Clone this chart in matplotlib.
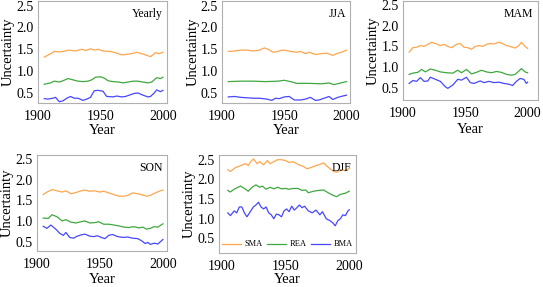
import matplotlib
matplotlib.use("Agg")
import matplotlib.pyplot as plt

# ---------------- data ----------------
series_names = ["SMA", "REA", "BMA"]
colors = ["#FFA64D", "#3FA83F", "#4747FF"]

yearly_sma_x = [1905, 1909, 1913, 1917, 1920, 1925, 1930, 1935, 1938, 1942, 1945, 1948, 1952, 1958, 1962, 1967, 1970, 1975, 1979, 1983, 1987, 1990, 1994, 1997, 2000]
yearly_sma_y = [1.32, 1.38, 1.45, 1.44, 1.45, 1.48, 1.46, 1.50, 1.47, 1.51, 1.48, 1.50, 1.46, 1.45, 1.42, 1.37, 1.38, 1.40, 1.43, 1.40, 1.36, 1.33, 1.42, 1.40, 1.43]
yearly_rea_x = [1905, 1910, 1913, 1917, 1920, 1924, 1928, 1932, 1936, 1940, 1943, 1946, 1950, 1953, 1956, 1960, 1965, 1968, 1972, 1976, 1980, 1984, 1988, 1991, 1995, 1998, 2000]
yearly_rea_y = [0.70, 0.73, 0.77, 0.75, 0.78, 0.83, 0.80, 0.77, 0.76, 0.77, 0.80, 0.86, 0.87, 0.84, 0.78, 0.76, 0.75, 0.73, 0.75, 0.77, 0.77, 0.75, 0.73, 0.75, 0.85, 0.83, 0.86]
yearly_bma_x = [1905, 1908, 1912, 1914, 1917, 1920, 1923, 1926, 1929, 1932, 1936, 1939, 1942, 1945, 1948, 1952, 1955, 1960, 1963, 1967, 1970, 1973, 1977, 1980, 1984, 1988, 1990, 1993, 1995, 1998, 2000]
yearly_bma_y = [0.37, 0.36, 0.38, 0.40, 0.30, 0.32, 0.38, 0.42, 0.38, 0.38, 0.33, 0.36, 0.40, 0.55, 0.56, 0.54, 0.42, 0.41, 0.43, 0.41, 0.42, 0.45, 0.49, 0.50, 0.45, 0.41, 0.42, 0.50, 0.57, 0.53, 0.56]

jja_sma_x = [1905, 1910, 1915, 1920, 1925, 1930, 1934, 1937, 1941, 1945, 1948, 1952, 1955, 1960, 1963, 1967, 1970, 1975, 1980, 1984, 1989, 1992, 1996, 2000]
jja_sma_y = [1.45, 1.46, 1.48, 1.48, 1.46, 1.48, 1.53, 1.50, 1.43, 1.45, 1.48, 1.47, 1.45, 1.43, 1.45, 1.40, 1.43, 1.38, 1.40, 1.41, 1.36, 1.40, 1.43, 1.48]
jja_rea_x = [1905, 1915, 1925, 1935, 1945, 1950, 1955, 1960, 1970, 1980, 1986, 1990, 1994, 2000]
jja_rea_y = [0.76, 0.77, 0.77, 0.76, 0.77, 0.79, 0.76, 0.72, 0.72, 0.71, 0.73, 0.69, 0.72, 0.76]
jja_bma_x = [1905, 1910, 1915, 1920, 1925, 1930, 1936, 1940, 1943, 1946, 1950, 1954, 1958, 1963, 1967, 1971, 1975, 1978, 1982, 1986, 1989, 1993, 1997, 2000]
jja_bma_y = [0.41, 0.42, 0.40, 0.39, 0.38, 0.38, 0.36, 0.33, 0.38, 0.37, 0.41, 0.42, 0.34, 0.34, 0.36, 0.40, 0.33, 0.34, 0.38, 0.42, 0.35, 0.40, 0.43, 0.45]

mam_sma_x = [1905, 1908, 1911, 1914, 1917, 1920, 1923, 1927, 1930, 1933, 1936, 1939, 1943, 1946, 1949, 1952, 1955, 1958, 1961, 1964, 1967, 1970, 1973, 1977, 1980, 1983, 1986, 1990, 1993, 1995, 1998, 2000]
mam_sma_y = [1.36, 1.47, 1.48, 1.52, 1.50, 1.55, 1.60, 1.56, 1.52, 1.55, 1.50, 1.47, 1.55, 1.57, 1.48, 1.47, 1.43, 1.50, 1.52, 1.50, 1.55, 1.57, 1.56, 1.60, 1.57, 1.52, 1.50, 1.46, 1.52, 1.60, 1.50, 1.45]
mam_rea_x = [1905, 1908, 1912, 1915, 1918, 1922, 1926, 1930, 1935, 1940, 1944, 1947, 1951, 1955, 1959, 1963, 1967, 1971, 1975, 1979, 1983, 1987, 1990, 1993, 1995, 1998, 2000]
mam_rea_y = [0.82, 0.85, 0.87, 0.94, 0.88, 0.95, 0.92, 0.88, 0.86, 0.85, 0.92, 0.86, 0.94, 0.83, 0.87, 0.92, 0.88, 0.86, 0.89, 0.87, 0.82, 0.80, 0.82, 0.90, 0.96, 0.88, 0.86]
mam_bma_x = [1905, 1908, 1911, 1914, 1917, 1920, 1922, 1926, 1930, 1934, 1936, 1940, 1944, 1947, 1951, 1954, 1957, 1962, 1965, 1969, 1973, 1977, 1981, 1985, 1988, 1991, 1994, 1997, 1999, 2000]
mam_bma_y = [0.60, 0.67, 0.65, 0.74, 0.65, 0.66, 0.75, 0.70, 0.65, 0.52, 0.48, 0.56, 0.70, 0.68, 0.75, 0.62, 0.60, 0.66, 0.62, 0.65, 0.62, 0.63, 0.60, 0.58, 0.55, 0.65, 0.72, 0.70, 0.60, 0.63]

son_sma_x = [1905, 1908, 1912, 1916, 1920, 1923, 1927, 1930, 1934, 1938, 1942, 1946, 1950, 1953, 1957, 1961, 1965, 1969, 1972, 1976, 1980, 1983, 1987, 1990, 1994, 1997, 2000]
son_sma_y = [1.64, 1.70, 1.76, 1.73, 1.70, 1.73, 1.66, 1.68, 1.72, 1.75, 1.72, 1.73, 1.70, 1.72, 1.68, 1.64, 1.60, 1.60, 1.62, 1.68, 1.66, 1.64, 1.60, 1.62, 1.68, 1.72, 1.75]
son_rea_x = [1905, 1909, 1912, 1916, 1920, 1923, 1927, 1931, 1935, 1938, 1942, 1946, 1949, 1953, 1957, 1961, 1965, 1969, 1973, 1977, 1981, 1984, 1987, 1990, 1993, 1996, 2000]
son_rea_y = [1.07, 1.06, 1.15, 1.10, 1.00, 1.03, 0.97, 0.95, 0.98, 1.00, 0.95, 0.96, 0.98, 0.92, 0.92, 0.90, 0.88, 0.85, 0.84, 0.86, 0.83, 0.85, 0.80, 0.82, 0.86, 0.85, 0.93]
son_bma_x = [1905, 1908, 1911, 1915, 1918, 1921, 1923, 1926, 1929, 1932, 1935, 1938, 1942, 1945, 1948, 1951, 1954, 1957, 1960, 1964, 1968, 1972, 1976, 1980, 1983, 1986, 1988, 1990, 1993, 1996, 2000]
son_bma_y = [0.87, 0.82, 0.90, 0.80, 0.70, 0.65, 0.72, 0.60, 0.58, 0.63, 0.66, 0.68, 0.63, 0.62, 0.64, 0.60, 0.57, 0.65, 0.67, 0.62, 0.60, 0.61, 0.58, 0.57, 0.52, 0.45, 0.48, 0.43, 0.46, 0.44, 0.55]

djf_sma_x = [1905, 1907, 1911, 1915, 1919, 1921, 1923, 1925, 1928, 1930, 1933, 1936, 1938, 1941, 1944, 1947, 1950, 1953, 1956, 1960, 1964, 1967, 1970, 1974, 1977, 1980, 1982, 1985, 1988, 1990, 1994, 1997, 2000]
djf_sma_y = [2.25, 2.20, 2.30, 2.35, 2.40, 2.35, 2.45, 2.52, 2.40, 2.45, 2.37, 2.48, 2.40, 2.45, 2.50, 2.50, 2.48, 2.43, 2.45, 2.38, 2.33, 2.27, 2.30, 2.35, 2.38, 2.42, 2.35, 2.27, 2.20, 2.18, 2.25, 2.22, 2.28]
djf_rea_x = [1905, 1907, 1910, 1913, 1915, 1918, 1921, 1924, 1927, 1930, 1932, 1935, 1938, 1941, 1944, 1947, 1950, 1953, 1956, 1960, 1963, 1966, 1968, 1972, 1976, 1980, 1984, 1987, 1990, 1993, 1997, 2000]
djf_rea_y = [1.72, 1.68, 1.75, 1.80, 1.83, 1.77, 1.70, 1.80, 1.86, 1.80, 1.83, 1.75, 1.80, 1.76, 1.80, 1.76, 1.77, 1.75, 1.77, 1.77, 1.72, 1.73, 1.66, 1.70, 1.72, 1.73, 1.65, 1.60, 1.56, 1.62, 1.65, 1.70]
djf_bma_x = [1905, 1907, 1910, 1912, 1914, 1916, 1918, 1920, 1922, 1925, 1927, 1929, 1931, 1933, 1935, 1937, 1939, 1941, 1943, 1945, 1947, 1949, 1951, 1953, 1955, 1957, 1959, 1961, 1963, 1965, 1968, 1971, 1974, 1977, 1979, 1982, 1985, 1987, 1989, 1991, 1993, 1995, 1997, 1999, 2000]
djf_bma_y = [1.15, 1.08, 1.20, 1.15, 1.30, 1.30, 1.15, 1.05, 1.15, 1.30, 1.35, 1.42, 1.30, 1.25, 1.30, 1.15, 1.10, 1.00, 1.12, 1.10, 1.05, 1.20, 1.25, 1.18, 1.32, 1.22, 1.28, 1.35, 1.28, 1.32, 1.20, 1.15, 1.22, 1.10, 1.18, 1.00, 0.95, 0.90, 0.82, 0.95, 1.00, 1.10, 1.08, 1.20, 1.23]

panel_titles = ["Yearly", "JJA", "MAM", "SON", "DJF"]
yticks = [0.5, 1.0, 1.5, 2.0, 2.5]
xticks = [1900, 1950, 2000]

panels = [
    [(yearly_sma_x, yearly_sma_y), (yearly_rea_x, yearly_rea_y), (yearly_bma_x, yearly_bma_y)],
    [(jja_sma_x, jja_sma_y), (jja_rea_x, jja_rea_y), (jja_bma_x, jja_bma_y)],
    [(mam_sma_x, mam_sma_y), (mam_rea_x, mam_rea_y), (mam_bma_x, mam_bma_y)],
    [(son_sma_x, son_sma_y), (son_rea_x, son_rea_y), (son_bma_x, son_bma_y)],
    [(djf_sma_x, djf_sma_y), (djf_rea_x, djf_rea_y), (djf_bma_x, djf_bma_y)],
]

# axes boxes [left, bottom, width, height] in figure fraction
boxes = [
    [0.070, 0.641, 0.237, 0.355],
    [0.409, 0.641, 0.236, 0.355],
    [0.742, 0.652, 0.248, 0.344],
    [0.068, 0.124, 0.239, 0.336],
    [0.403, 0.117, 0.252, 0.343],
]
xlims = [(1900, 2003), (1900, 2003), (1900, 2008), (1900, 2003), (1898, 2005)]
ylims = [(0.27, 2.6), (0.27, 2.6), (0.2, 2.6), (0.26, 2.6), (0.12, 2.62)]
xlabel_pads = [1, 1, 2, 1, 0]

plt.rcParams["font.family"] = ["Liberation Serif", "DejaVu Serif"]

fig = plt.figure(figsize=(5.43, 2.87), dpi=100)
for i, (box, data, title) in enumerate(zip(boxes, panels, panel_titles)):
    ax = fig.add_axes(box)
    for (x, y), name, c in zip(data, series_names, colors):
        ax.plot(x, y, color=c, lw=0.9, label=name)
    ax.set_xlim(*xlims[i])
    ax.set_ylim(*ylims[i])
    ax.set_xticks(xticks)
    ax.set_yticks(yticks)
    ax.set_yticklabels([f"{v:.1f}" for v in yticks])
    ax.tick_params(length=0, labelsize=10)
    ax.tick_params(axis="y", pad=3)
    ax.tick_params(axis="x", pad=5)
    for s in ax.spines.values():
        s.set_color("#b0b0b0")
        s.set_linewidth(0.8)
    ax.set_xlabel("Year", fontsize=10.5, labelpad=xlabel_pads[i])
    ax.set_ylabel("Uncertainty", fontsize=10.5, labelpad=1)
    ax.text(0.97, 0.93, title, transform=ax.transAxes, ha="right", va="top",
            fontsize=8.5)
    if title == "DJF":
        ax.legend(loc="lower center", ncol=3, frameon=False, fontsize=6,
                  handlelength=2.3, columnspacing=0.6, handletextpad=0.35,
                  borderaxespad=0.2)

fig.savefig("out.png", dpi=100)
